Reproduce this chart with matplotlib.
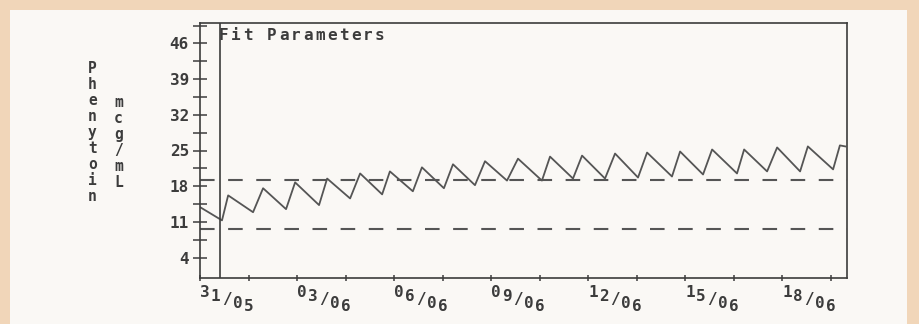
import numpy as np
import matplotlib
matplotlib.use("Agg")
from matplotlib import pyplot as plt
from matplotlib.transforms import offset_copy, blended_transform_factory
from matplotlib.patches import Rectangle

# Data (time in days from 31/05, phenytoin mcg/mL)
times = [0.0, 0.68, 0.87, 1.64, 1.95, 2.66, 2.94, 3.68, 3.93, 4.64, 4.95,
         5.63, 5.87, 6.58, 6.86, 7.54, 7.82, 8.50, 8.81, 9.49, 9.83,
         10.57, 10.82, 11.53, 11.81, 12.52, 12.83, 13.54, 13.82, 14.59,
         14.84, 15.55, 15.83, 16.60, 16.82, 17.53, 17.84, 18.55, 18.79,
         19.57, 19.78, 19.95]
conc = [13.9, 11.3, 16.2, 12.9, 17.6, 13.5, 18.75, 14.3, 19.5, 15.6, 20.5,
        16.4, 20.9, 17.0, 21.7, 17.6, 22.3, 18.2, 22.9, 19.1, 23.4,
        19.1, 23.8, 19.5, 24.0, 19.5, 24.4, 19.7, 24.6, 19.9,
        24.8, 20.3, 25.2, 20.5, 25.2, 20.9, 25.6, 20.9, 25.8,
        21.3, 26.0, 25.8]
range_high = 19.2
range_low = 9.6
fit_start = 0.62

x_ticks = [0, 3, 6, 9, 12, 15, 18]
x_labels = ["31/05", "03/06", "06/06", "09/06", "12/06", "15/06", "18/06"]
x_minor = [1.5, 4.5, 7.5, 10.5, 13.5, 16.5, 19.5]
y_ticks = [4, 11, 18, 25, 32, 39, 46]
y_minor = [7.5, 14.5, 21.5, 28.5, 35.5, 42.5, 49.5]

ink = "#3c3c3c"
mono = "DejaVu Sans Mono"
W, H = 919, 324


def chars(fig, s, x0, y0, dx, dy, transform, size=10):
    # draw a string one character at a time (dot-matrix style spacing)
    for i, c in enumerate(s):
        tr = offset_copy(transform, fig=fig, x=i * dx, y=-i * dy, units="dots")
        fig.text(x0, y0, c, transform=tr, fontsize=size, family=mono,
                 fontweight="bold", color=ink, ha="left", va="top")


fig = plt.figure(figsize=(W / 100, H / 100), dpi=100)
fig.patch.set_facecolor("#f1d6b9")
fig.patches.append(Rectangle((10 / W, 0), 897 / W, 1 - 10 / H,
                             transform=fig.transFigure, facecolor="#faf8f5",
                             edgecolor="none", zorder=-5))

ax = fig.add_axes([200 / W, 1 - 278 / H, 647 / W, 255 / H])
ax.set_zorder(2)
ax.set_facecolor("none")
ax.set_xlim(0, 20)
ax.set_ylim(0, 50)

ax.plot(times, conc, color="#555555", lw=1.3)
ax.axhline(range_high, color="#555555", lw=1.5, dashes=(7, 6.5))
ax.axhline(range_low, color="#555555", lw=1.5, dashes=(7, 6.5))
ax.axvline(fit_start, color=ink, lw=1.2)

for s in ax.spines.values():
    s.set_color(ink)
    s.set_linewidth(1.2)

ax.set_yticks(y_ticks)
ax.set_yticks(y_minor, minor=True)
ax.set_yticklabels([str(v) for v in y_ticks], family=mono, fontweight="bold",
                   fontsize=11.5, color=ink)
ax.tick_params(axis="y", which="both", direction="inout", length=10,
               width=1.1, color=ink, pad=3)
ax.set_xticks(x_ticks)
ax.set_xticks(x_minor, minor=True)
ax.set_xticklabels([])
ax.tick_params(axis="x", which="both", direction="inout", length=5,
               width=1.1, color=ink)

# staggered date labels under the axis
bt = blended_transform_factory(ax.transData, fig.transFigure)
for xv, lab in zip(x_ticks, x_labels):
    chars(fig, lab, xv, 1 - 285 / H, 11, 3.6, bt, size=11.5)

# title inside the plot and stacked axis label
chars(fig, "Fit Parameters", 219 / W, 1 - 28 / H, 12, 0, fig.transFigure, size=11.5)
chars(fig, "Phenytoin", 88 / W, 1 - 61 / H, 0, 16, fig.transFigure, size=10.5)
chars(fig, "mcg/mL", 114 / W, 1 - 95 / H, 0, 16, fig.transFigure, size=10.5)

fig.savefig("out.png", dpi=100)
